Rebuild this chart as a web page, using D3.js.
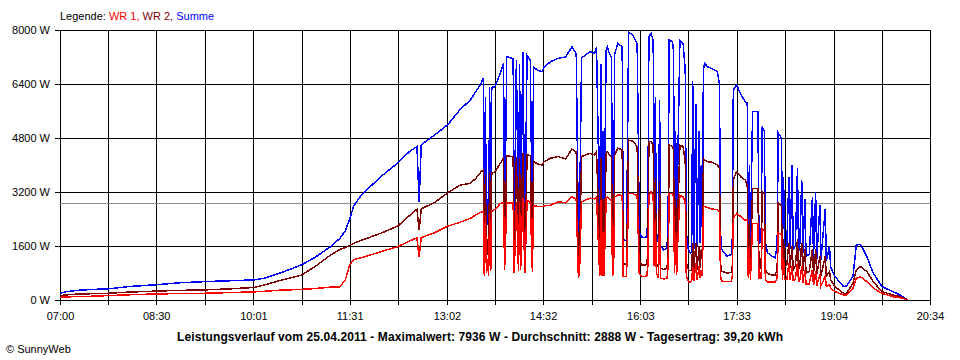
<!DOCTYPE html>
<html><head><meta charset="utf-8">
<script src="https://cdn.jsdelivr.net/npm/d3@7"></script>
<style>body{margin:0;background:#fff}svg{display:block}text{font-family:"Liberation Sans",Arial,sans-serif}</style>
</head><body><svg id="c" width="960" height="360"></svg>
<script>
const times = [
"07:00","07:05","07:14","07:28","07:45","08:05","08:31","08:52","09:16","09:39",
"10:01","10:12","10:26","10:46","10:59","11:13","11:22","11:27","11:31","11:35",
"11:43","12:02","12:16","12:27","12:34","12:36","12:38","12:51","13:03","13:14",
"13:24","13:29","13:34","13:36","13:37","13:38","13:39","13:40","13:41","13:42",
"13:43","13:44","13:47","13:52","13:55","13:56","13:58","14:04","14:05","14:07",
"14:09","14:10","14:11","14:13","14:15","14:17","14:20","14:22","14:23","14:27",
"14:31","14:33","14:39","14:46","14:53","14:59","15:03","15:05","15:06","15:08",
"15:16","15:20","15:22","15:25","15:26","15:27","15:28","15:29","15:31","15:32",
"15:34","15:36","15:37","15:38","15:39","15:42","15:46","15:47","15:50","15:51",
"15:52","15:56","16:00","16:01","16:02","16:04","16:07","16:09","16:10","16:11",
"16:13","16:15","16:16","16:17","16:18","16:20","16:21","16:22","16:25","16:28",
"16:29","16:30","16:33","16:34","16:35","16:36","16:37","16:38","16:40","16:43",
"16:45","16:46","16:48","16:50","16:51","16:52","16:53","16:55","16:56","16:58",
"16:59","17:00","17:01","17:02","17:03","17:06","17:10","17:15","17:17","17:18",
"17:19","17:24","17:28","17:29","17:30","17:33","17:37","17:41","17:43","17:44",
"17:45","17:46","17:48","17:53","17:54","17:56","17:57","17:59","18:00","18:02",
"18:06","18:09","18:11","18:12","18:15","18:16","18:17","18:18","18:20","18:22",
"18:23","18:25","18:26","18:28","18:30","18:31","18:32","18:34","18:35","18:37",
"18:38","18:41","18:44","18:45","18:47","18:48","18:51","18:52","18:56","18:57",
"19:00","19:01","19:05","19:13","19:16","19:22","19:25","19:29","19:35","19:41",
"19:49","19:59","20:06","20:13"];

const summe = [
200,240,280,310,330,400,455,510,545,570,
595,650,800,1040,1270,1580,1830,2050,2400,2800,
3150,3700,4060,4400,4550,2900,4600,4900,5200,5630,
5930,6170,6420,6570,1900,6000,2100,3000,1900,6300,
2200,6300,6320,6720,7010,1850,7210,7150,2000,7100,
2100,7000,2200,7360,2000,7250,7100,1850,6910,6800,
6770,6910,7060,7160,7200,7500,7300,1980,2100,7170,
7360,7300,7500,2200,7000,2000,5000,1900,7400,7500,
7300,7200,1700,2500,7300,7600,7500,1800,1750,4500,
7936,7850,7600,5000,2000,1870,1850,1870,2400,7800,
7900,7700,2500,6000,2000,1690,5930,1600,1480,1550,
2500,7700,7650,7400,2000,5000,2000,4000,7700,7600,
6800,2000,1480,1390,1450,6500,1500,5800,1600,5000,
1700,4000,2000,6810,7010,6910,6850,6770,6400,2000,
1500,1300,1350,1800,6220,6370,6100,5880,5830,1700,
4000,1700,5580,5580,1690,1700,5140,5000,1700,1400,
1300,1250,1600,4950,4800,1600,3650,1550,1600,3650,
1500,4000,1500,1600,3900,1450,1500,3560,1400,3000,
1300,1350,3060,1250,3190,1200,2800,1200,2700,1150,
1600,980,700,400,420,700,1630,1650,1280,790,
400,250,150,0];

const wr2 = [
130,150,170,185,200,235,265,285,300,330,
370,450,580,740,1000,1330,1500,1550,1620,1680,
1780,2000,2190,2500,2690,2070,2700,2900,3180,3400,
3460,3600,3800,3850,1200,3700,1300,1800,1150,3800,
1350,3760,3800,4050,4200,950,4270,4250,1180,4250,
1200,4200,1300,4350,1200,4300,4280,980,4100,4030,
4000,4100,4200,4250,4180,4470,4380,1090,1200,4250,
4350,4300,4400,1480,4200,1300,3000,1200,4350,4400,
4300,4250,1000,1500,4300,4500,4450,1090,1050,2700,
4740,4700,4550,3000,1200,1040,1030,1050,1400,4690,
4700,4600,1500,3600,1100,950,3500,950,900,950,
1500,4590,4550,4450,1200,3000,1100,2500,4590,4550,
4100,1100,890,870,900,1700,900,1700,900,1600,
950,1500,1200,4200,4150,4100,4080,4000,3900,1100,
850,800,820,1000,3560,3800,3650,3560,3410,950,
2400,900,3310,3310,950,950,3200,3150,900,780,
740,740,900,2870,2800,900,1800,1000,1050,1700,
950,1600,900,1000,1800,900,950,1700,850,1500,
800,850,1500,780,1500,750,1300,720,1300,700,
850,600,400,200,200,500,890,990,840,540,
250,150,100,0];

const wr1 = [
80,90,100,110,130,155,180,190,200,220,
240,260,290,315,340,380,390,600,1040,1200,
1260,1450,1580,1750,1840,1270,1850,2000,2190,2300,
2420,2520,2600,2620,700,2500,800,1200,700,2550,
850,2650,2680,2860,2880,890,2880,2880,800,2900,
850,2900,900,3010,800,2950,2900,820,2800,2770,
2770,2790,2810,2910,2880,3060,2980,690,750,2910,
3020,3000,3050,700,2950,700,2000,700,3000,3050,
3000,2950,700,1000,3050,3110,3100,690,690,1800,
3160,3150,3100,2000,800,700,690,720,1000,3100,
3200,3100,1000,2400,800,650,2400,650,620,650,
1000,3160,3150,3050,800,2000,750,1700,3100,3050,
2900,700,540,540,560,1000,560,1100,600,1000,
650,900,700,2770,2770,2740,2700,2670,2600,700,
560,540,550,700,2420,2570,2470,2370,2370,650,
1600,600,2270,2270,650,650,2100,2050,600,540,
530,530,650,1980,1950,600,1200,620,600,1100,
600,1000,580,600,1100,550,550,1000,520,900,
480,480,900,440,850,420,750,420,700,400,
450,350,250,150,150,350,640,690,540,350,
200,100,70,0];

const xTickLabels = ["07:00","08:30","10:01","11:31","13:02","14:32","16:03","17:33","19:04","20:34"];
const yTicks = [0,1600,3200,4800,6400,8000];
const average = 2888;
const legendLabels = ["Legende: ","WR 1,"," WR 2,"," Summe"];
const titleText = "Leistungsverlauf vom 25.04.2011 - Maximalwert: 7936 W - Durchschnitt: 2888 W - Tagesertrag: 39,20 kWh";
const creditText = "\u00A9 SunnyWeb";

const parse = d3.timeParse("%Y-%m-%d %H:%M");
const T = s => parse("2011-04-25 " + s);

const svg = d3.select("#c");
const L = 60, R = 930, TOP = 30, BOT = 300;
const x = d3.scaleTime().domain([T(xTickLabels[0]), T(xTickLabels[xTickLabels.length-1])]).range([L, R]);
const y = d3.scaleLinear().domain([0, 8000]).range([BOT, TOP]);

const major = xTickLabels.map(T);
const minor = major.slice(1).map((t,i) => new Date((t.getTime() + major[i].getTime())/2));
const allX = major.concat(minor);

const grid = svg.append("g").attr("shape-rendering","crispEdges");
grid.selectAll("line.v").data(allX).join("line").attr("class","v")
  .attr("x1", d => Math.round(x(d))+0.5).attr("x2", d => Math.round(x(d))+0.5)
  .attr("y1", TOP).attr("y2", BOT+0.5).attr("stroke","#000");
grid.selectAll("line.h").data(yTicks).join("line").attr("class","h")
  .attr("x1", L).attr("x2", R+1).attr("y1", d => Math.round(y(d))+0.5).attr("y2", d => Math.round(y(d))+0.5)
  .attr("stroke","#000");

const xa = svg.append("g").attr("transform",`translate(0,${BOT})`)
  .call(d3.axisBottom(x).tickValues(major).tickSize(5).tickPadding(7).tickFormat((d,i)=>xTickLabels[i]));
const xm = svg.append("g").attr("transform",`translate(0,${BOT})`)
  .call(d3.axisBottom(x).tickValues(minor).tickSize(5).tickFormat(""));
const ya = svg.append("g").attr("transform",`translate(${L},0)`)
  .call(d3.axisLeft(y).tickValues(yTicks).tickSize(5).tickPadding(5).tickFormat(d => d + " W"));
[xa,xm,ya].forEach(g => {
  g.select(".domain").remove();
  g.attr("font-family", null).attr("font-size", 11);
  g.selectAll("line").attr("stroke","#000").attr("shape-rendering","crispEdges");
  g.selectAll("text").attr("fill","#000");
});

svg.append("line").attr("x1", L).attr("x2", R).attr("y1", Math.round(y(average))+0.5).attr("y2", Math.round(y(average))+0.5)
  .attr("stroke","#8c8c8c").attr("stroke-width",1.5).attr("shape-rendering","crispEdges");

const rows = times.map((t,i) => ({t: T(t), s: summe[i], a: wr1[i], b: wr2[i]}));
const mk = key => d3.line().x(d => x(d.t)).y(d => y(d[key]));
const series = [["s","#0000ff"],["b","#800000"],["a","#ff0000"]];
series.forEach(([k,c]) => {
  svg.append("path").datum(rows).attr("d", mk(k)).attr("fill","none")
    .attr("stroke", c).attr("stroke-width", 1.5).attr("shape-rendering","crispEdges");
});

const legendColors = ["#000","#ff0000","#800000","#0000ff"];
const lg = svg.append("text").attr("x", 60).attr("y", 20).attr("font-size", 11).attr("xml:space","preserve");
legendLabels.forEach((t,i) => lg.append("tspan").attr("fill", legendColors[i]).text(t));

svg.append("text").attr("x", 480).attr("y", 341).attr("text-anchor","middle")
  .attr("font-size", 12).attr("font-weight","bold")
  .attr("textLength", 606).attr("lengthAdjust","spacing").text(titleText);
svg.append("text").attr("x", 6).attr("y", 353).attr("font-size", 11).text(creditText);
</script></body></html>
